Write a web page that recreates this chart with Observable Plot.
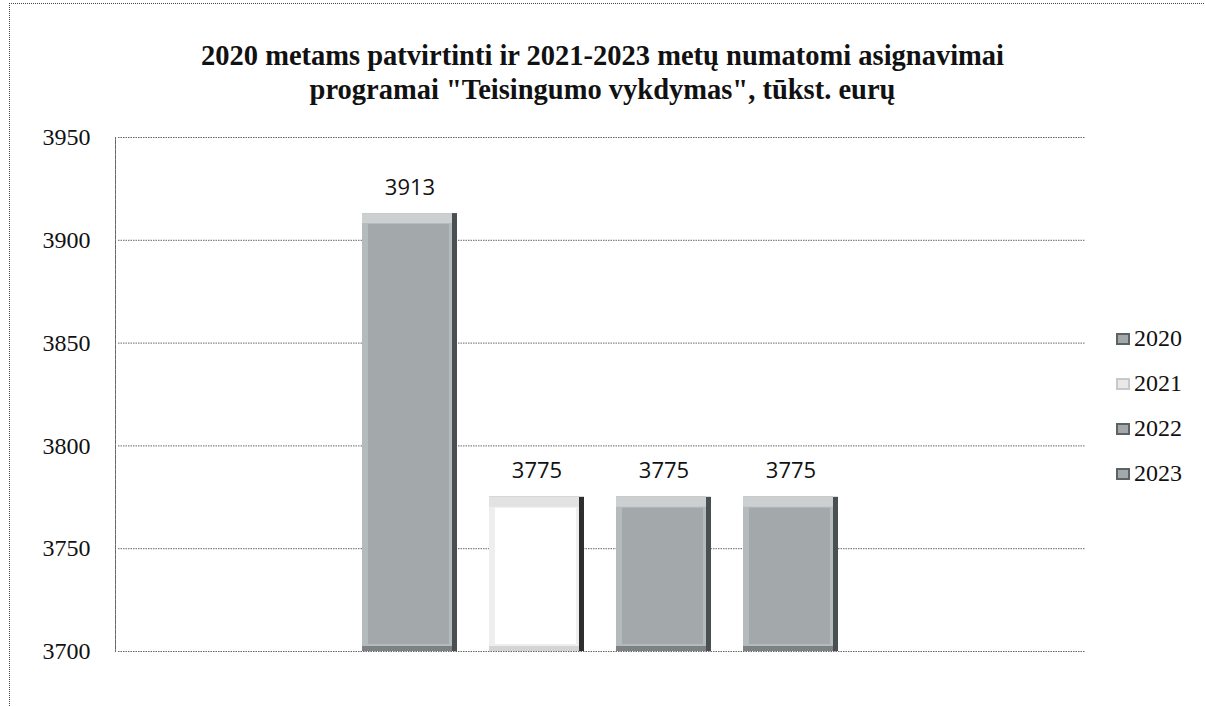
<!DOCTYPE html>
<html>
<head>
<meta charset="utf-8">
<script src="https://cdn.jsdelivr.net/npm/d3@7"></script>
<script src="https://cdn.jsdelivr.net/npm/@observablehq/plot@0.6"></script>
<style>
  html, body { margin: 0; padding: 0; background: #fff; }
  #wrap { position: relative; width: 1205px; height: 706px; overflow: hidden; }
  #border { position: absolute; left: 9px; top: 3px; width: 1300px; height: 800px;
            border-top: 1px dotted #444; border-left: 1px dotted #444; }
  #title { position: absolute; left: 0; top: 39px; width: 1205px; text-align: center;
           font-family: "Liberation Serif", "Times New Roman", serif; font-weight: bold; font-size: 28.5px;
           line-height: 34px; color: #111; }
  #chart { position: absolute; left: 0; top: 0; }
  #legend { position: absolute; left: 1116px; top: 316px; font-family: "Liberation Serif", "Times New Roman", serif;
            font-size: 24px; color: #111; }
  .item { display: flex; align-items: center; height: 45px; }
  .sw { width: 14px; height: 12px; margin-right: 4px; box-sizing: border-box; }
</style>
</head>
<body>
<div id="wrap">
  <div id="border"></div>
  <div id="chart"></div>
  <div id="title">2020 metams patvirtinti ir 2021-2023 metų numatomi asignavimai<br>programai "Teisingumo vykdymas", tūkst. eurų</div>
  <div id="legend"></div>
</div>
<script>
const years = ["2020", "2021", "2022", "2023"];
const values = [3913, 3775, 3775, 3775];
const yTicks = [3700, 3750, 3800, 3850, 3900, 3950];
const faceColors = ["#a3a8ab", "#ffffff", "#a3a8ab", "#a3a8ab"];
const lightEdge = ["#ccd0d1", "#e2e2e2", "#ccd0d1", "#ccd0d1"];
const darkEdge = ["#4a4f51", "#2e2e2e", "#4a4f51", "#4a4f51"];
const sideEdge = ["#b5babc", "#eeeeee", "#b5babc", "#b5babc"];
const bottomEdge = ["#7c8183", "#d4d4d4", "#7c8183", "#7c8183"];

const yMin = yTicks[0];
const data = years.map((year, i) => ({
  year, value: values[i], face: faceColors[i], light: lightEdge[i], dark: darkEdge[i],
  side: sideEdge[i], bottom: bottomEdge[i]
}));

const chart = Plot.plot({
  width: 1205,
  height: 706,
  marginTop: 137,
  marginBottom: 55,
  marginLeft: 118,
  marginRight: 120,
  style: { background: "transparent" },
  x: { domain: years, range: [346, 854], paddingInner: 0.25, paddingOuter: 0.125, axis: null },
  y: { domain: [yTicks[0], yTicks[yTicks.length - 1]], axis: null },
  color: { type: "identity" },
  marks: [
    Plot.ruleY(yTicks, { stroke: "#666", strokeWidth: 1, strokeDasharray: "1.5,1" }),
    Plot.frame({ anchor: "left", stroke: "#666", strokeDasharray: "1.5,1", dx: -3 }),
    Plot.barY(data, { x: "year", y1: yMin, y2: "value", fill: "dark" }),
    Plot.barY(data, { x: "year", y1: yMin, y2: "value", fill: "bottom", insetRight: 5 }),
    Plot.barY(data, { x: "year", y1: yMin, y2: "value", fill: "light", insetRight: 5, insetBottom: 5 }),
    Plot.barY(data, { x: "year", y1: yMin, y2: "value", fill: "side", insetRight: 5, insetTop: 10, insetBottom: 5 }),
    Plot.barY(data, { x: "year", y1: yMin, y2: "value", fill: "face",
                      insetLeft: 6, insetRight: 8, insetTop: 11, insetBottom: 7 }),
    Plot.text(data, { x: "year", y: "value", text: d => String(d.value), dy: -26,
                      fontFamily: "'Open Sans', sans-serif", fontSize: 22, fill: "#111" }),
    Plot.axisY({ ticks: yTicks, tickFormat: d => String(d), tickSize: 0, tickPadding: 28, fontSize: 24,
                 fontFamily: "'Liberation Serif', 'Times New Roman', serif", fill: "#111", label: null })
  ]
});
document.getElementById("chart").appendChild(chart);

const legend = document.getElementById("legend");
years.forEach((year, i) => {
  const item = document.createElement("div");
  item.className = "item";
  const sw = document.createElement("div");
  sw.className = "sw";
  sw.style.background = faceColors[i] === "#ffffff" ? "#e8e8e8" : faceColors[i];
  sw.style.border = "2px solid " + (faceColors[i] === "#ffffff" ? "#c8c8c8" : "#5d6264");
  const label = document.createElement("span");
  label.textContent = year;
  item.appendChild(sw);
  item.appendChild(label);
  legend.appendChild(item);
});
</script>
</body>
</html>
